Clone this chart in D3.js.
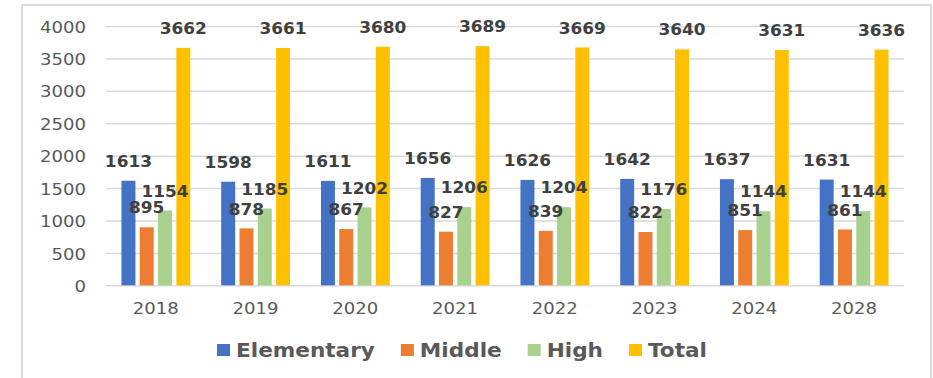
<!DOCTYPE html>
<html>
<head>
<meta charset="utf-8">
<script src="https://cdn.jsdelivr.net/npm/d3@7"></script>
<style>
  html, body { margin: 0; padding: 0; background: #fff; }
  svg { display: block; }
</style>
</head>
<body>
<svg id="chart" width="933" height="378"></svg>
<script>
const years = ["2018", "2019", "2020", "2021", "2022", "2023", "2024", "2028"];
const seriesNames = ["Elementary", "Middle", "High", "Total"];
const elementary = [1613, 1598, 1611, 1656, 1626, 1642, 1637, 1631];
const middle = [895, 878, 867, 827, 839, 822, 851, 861];
const high = [1154, 1185, 1202, 1206, 1204, 1176, 1144, 1144];
const total = [3662, 3661, 3680, 3689, 3669, 3640, 3631, 3636];
const yTicks = [0, 500, 1000, 1500, 2000, 2500, 3000, 3500, 4000];
const colors = ["#4472C4", "#ED7D31", "#A9D18E", "#FFC000"];

const seriesValues = [elementary, middle, high, total];

const svg = d3.select("#chart");

// outer frame
svg.append("rect")
  .attr("x", 22).attr("y", 5)
  .attr("width", 909).attr("height", 420)
  .attr("fill", "none")
  .attr("stroke", "#d9d9d9")
  .attr("stroke-width", 2);

const plotLeft = 106, plotRight = 904, plotTop = 26, plotBottom = 285.3;

const x = d3.scaleBand().domain(years).range([plotLeft, plotRight])
  .paddingInner(0.31).paddingOuter(0.155);
const xs = d3.scaleBand().domain(seriesNames).range([0, x.bandwidth()])
  .paddingInner(0.236).paddingOuter(0);
const y = d3.scaleLinear().domain([0, 4000]).range([plotBottom, plotTop]);

// gridlines + y axis labels
const yAxis = d3.axisLeft(y).tickValues(yTicks).tickFormat(d3.format("d"))
  .tickSize(-(plotRight - plotLeft)).tickPadding(0);
const gy = svg.append("g").attr("transform", `translate(${plotLeft},0)`).call(yAxis);
gy.select(".domain").remove();
gy.selectAll(".tick line").attr("stroke", "#d9d9d9").attr("stroke-width", 1.5);
gy.selectAll(".tick text")
  .attr("x", 0).attr("dy", null)
  .attr("dominant-baseline", "central")
  .attr("transform", "translate(-20,0.5) scale(1.13,1)")
  .attr("text-anchor", "end")
  .attr("fill", "#595959")
  .style("font-family", "DejaVu Sans")
  .style("font-size", "16px");

// x axis labels
const xAxis = d3.axisBottom(x).tickSize(0).tickPadding(0);
const gx = svg.append("g").attr("transform", `translate(0,${plotBottom})`).call(xAxis);
gx.select(".domain").remove();
gx.selectAll(".tick text")
  .attr("y", 0).attr("dy", null)
  .attr("dominant-baseline", "central")
  .attr("transform", "translate(0,23.5) scale(1.13,1)")
  .attr("fill", "#595959")
  .style("font-family", "DejaVu Sans")
  .style("font-size", "16px");

// bars
const rows = [];
years.forEach((yr, i) => {
  seriesNames.forEach((s, j) => {
    rows.push({ year: yr, series: s, value: seriesValues[j][i], color: colors[j] });
  });
});

svg.append("g").selectAll("rect").data(rows).join("rect")
  .attr("x", d => x(d.year) + xs(d.series))
  .attr("y", d => y(d.value))
  .attr("width", xs.bandwidth())
  .attr("height", d => y(0) - y(d.value))
  .attr("fill", d => d.color);

// value labels
svg.append("g").selectAll("text").data(rows).join("text")
  .attr("transform", d => `translate(${x(d.year) + xs(d.series) + xs.bandwidth() / 2},${y(d.value) - 19}) scale(1.13,1)`)
  .attr("text-anchor", "middle")
  .attr("dominant-baseline", "central")
  .attr("fill", "#404040")
  .style("font-family", "DejaVu Sans")
  .style("font-weight", "bold")
  .style("font-size", "15px")
  .text(d => d.value);

// legend
const legend = svg.append("g");
let lx = 217;
const ly = 350;
const lsx = 1.08;
seriesNames.forEach((s, j) => {
  legend.append("rect")
    .attr("x", lx).attr("y", ly - 6)
    .attr("width", 13).attr("height", 12)
    .attr("fill", colors[j]);
  const t = legend.append("text")
    .attr("transform", `translate(${lx + 19},${ly}) scale(${lsx},1)`)
    .attr("dominant-baseline", "central")
    .attr("fill", "#595959")
    .style("font-family", "DejaVu Sans")
    .style("font-weight", "bold")
    .style("font-size", "20px")
    .text(s);
  const w = t.node().getComputedTextLength() * lsx;
  lx = lx + 19 + w + 26;
});
</script>
</body>
</html>
